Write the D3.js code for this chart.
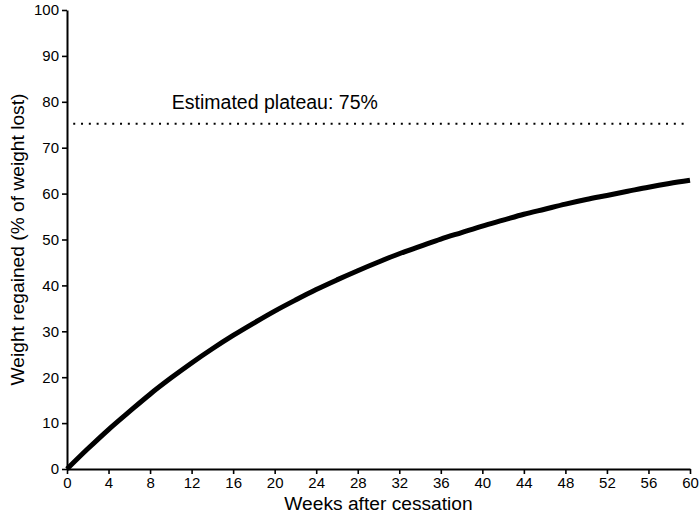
<!DOCTYPE html>
<html>
<head>
<meta charset="utf-8">
<script src="https://cdn.jsdelivr.net/npm/d3@7"></script>
<style>
  body { margin: 0; background: #fff; }
  svg text { font-family: "Liberation Sans", Arial, sans-serif; fill: #000; }
</style>
</head>
<body>
<svg id="chart" width="700" height="525"></svg>
<script>
// Data (weeks after cessation vs % of weight regained)
const weeks  = [0, 2, 4, 6, 8, 10, 12, 14, 16, 18, 20, 22, 24, 26, 28, 30, 32, 34, 36, 38, 40, 42, 44, 46, 48, 50, 52, 54, 56, 58, 60];
const regain = [0, 4.4, 8.6, 12.5, 16.3, 19.8, 23.1, 26.2, 29.1, 31.8, 34.4, 36.8, 39.1, 41.2, 43.2, 45.1, 46.9, 48.5, 50.1, 51.5, 52.9, 54.2, 55.5, 56.6, 57.7, 58.7, 59.6, 60.5, 61.4, 62.2, 62.9];
const plateau = 75.2;
const plateauLabel = "Estimated plateau: 75%";
const xTicks = [0, 4, 8, 12, 16, 20, 24, 28, 32, 36, 40, 44, 48, 52, 56, 60];
const yTicks = [0, 10, 20, 30, 40, 50, 60, 70, 80, 90, 100];
const xTitle = "Weeks after cessation";
const yTitle = "Weight regained (% of weight lost)";

const svg = d3.select("#chart");
const margin = { left: 67, right: 10, top: 10, bottom: 56 };
const W = 700, H = 525;

const x = d3.scaleLinear().domain([0, 60]).range([margin.left, W - margin.right]);
const y = d3.scaleLinear().domain([0, 100]).range([H - margin.bottom, margin.top]);

// Axes
const xAxis = svg.append("g")
  .attr("transform", `translate(0,${y(0)})`)
  .call(d3.axisBottom(x).tickValues(xTicks).tickSize(5).tickSizeOuter(0).tickPadding(3));
const yAxis = svg.append("g")
  .attr("transform", `translate(${x(0)},0)`)
  .call(d3.axisLeft(y).tickValues(yTicks).tickSize(5).tickSizeOuter(0).tickPadding(3));

[xAxis, yAxis].forEach(g => {
  g.select(".domain").attr("stroke", "#000").attr("stroke-width", 2);
  g.selectAll(".tick line").attr("stroke", "#000").attr("stroke-width", 1.6);
  g.selectAll(".tick text").attr("font-size", 15).attr("font-family", "Liberation Sans, Arial, sans-serif").attr("fill", "#000");
});

// Plateau dotted line
svg.append("line")
  .attr("x1", x(0.6)).attr("x2", x(59.8))
  .attr("y1", y(plateau)).attr("y2", y(plateau))
  .attr("stroke", "#000").attr("stroke-width", 2)
  .attr("stroke-dasharray", "2 5.8");

svg.append("text")
  .attr("x", x(10.1)).attr("y", y(plateau) - 15)
  .attr("font-size", 19.5)
  .text(plateauLabel);

// Curve
const pts = weeks.map((w, i) => [w, regain[i]]);
const line = d3.line().x(d => x(d[0])).y(d => y(d[1])).curve(d3.curveMonotoneX);
svg.append("path")
  .datum(pts)
  .attr("d", line)
  .attr("fill", "none")
  .attr("stroke", "#000")
  .attr("stroke-width", 5);

// Axis titles
svg.append("text")
  .attr("x", (x(0) + x(60)) / 2).attr("y", 510)
  .attr("text-anchor", "middle")
  .attr("font-size", 19.2)
  .text(xTitle);

svg.append("text")
  .attr("transform", `translate(24,${(y(0) + y(100)) / 2}) rotate(-90)`)
  .attr("text-anchor", "middle")
  .attr("font-size", 19.2)
  .text(yTitle);
</script>
</body>
</html>
